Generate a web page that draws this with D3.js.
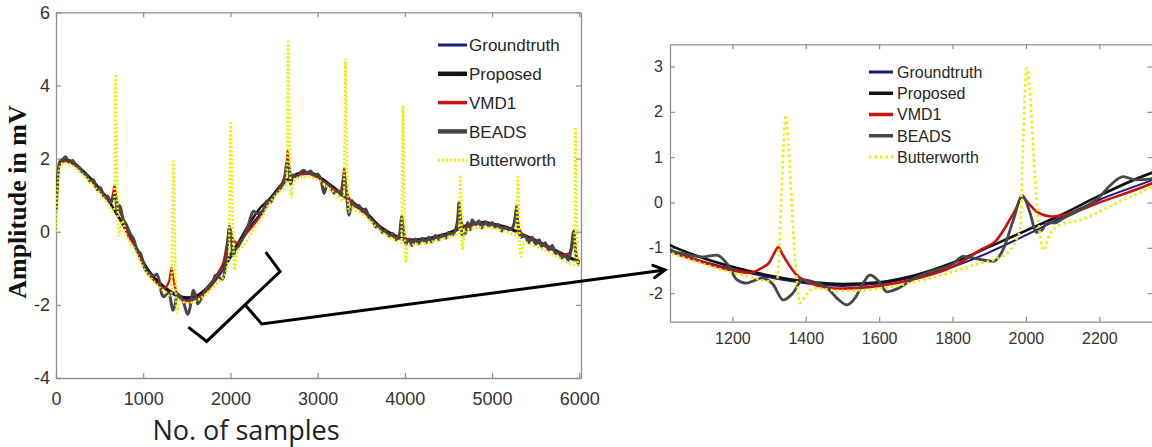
<!DOCTYPE html>
<html>
<head>
<meta charset="utf-8">
<script src="https://cdn.jsdelivr.net/npm/d3@7"></script>
<style>
  html, body { margin: 0; padding: 0; background: #fff; }
  svg { display: block; }
</style>
</head>
<body>
<svg id="chart" width="1152" height="447"></svg>
<script>
// ---- data: [sample index, amplitude in mV] ----
const seriesNames = ["Groundtruth", "Proposed", "VMD1", "BEADS", "Butterworth"];

const groundtruth = [
  [0,0.62],[15,1.3],[40,1.85],[100,1.95],[200,1.86],[300,1.66],[400,1.42],[500,1.15],[600,0.84],
  [700,0.45],[800,0.04],[900,-0.38],[960,-0.68],[1030,-1.04],[1100,-1.25],[1200,-1.47],[1300,-1.65],
  [1400,-1.78],[1500,-1.84],[1600,-1.79],[1700,-1.64],[1800,-1.42],[1900,-1.1],[2000,-0.72],
  [2100,-0.32],[2200,0.06],[2345,0.5],[2450,0.86],[2560,1.2],[2680,1.45],[2800,1.58],[2900,1.6],
  [3000,1.5],[3100,1.34],[3200,1.16],[3300,0.96],[3400,0.78],[3500,0.62],[3600,0.4],[3700,0.15],
  [3800,-0.02],[3900,-0.14],[4000,-0.23],[4100,-0.25],[4200,-0.23],[4300,-0.19],[4400,-0.13],
  [4500,-0.06],[4600,0.04],[4700,0.14],[4800,0.21],[4900,0.23],[5000,0.2],[5100,0.14],[5200,0.07],
  [5300,-0.04],[5400,-0.15],[5500,-0.26],[5600,-0.38],[5700,-0.5],[5800,-0.62],[5900,-0.74],[6000,-0.84]
];

const proposed = [
  [0,0.65],[15,1.33],[40,1.88],[100,1.98],[200,1.89],[300,1.69],[400,1.45],[500,1.18],[600,0.87],
  [700,0.48],[800,0.07],[900,-0.33],[960,-0.62],[1030,-0.94],[1100,-1.17],[1200,-1.42],[1300,-1.61],
  [1400,-1.74],[1500,-1.8],[1600,-1.76],[1700,-1.6],[1800,-1.33],[1900,-0.98],[2000,-0.62],
  [2100,-0.26],[2200,0.15],[2345,0.66],[2450,0.9],[2560,1.23],[2680,1.48],[2800,1.61],[2900,1.63],
  [3000,1.53],[3100,1.37],[3200,1.19],[3300,0.99],[3400,0.81],[3500,0.65],[3600,0.43],[3700,0.18],
  [3800,0.01],[3900,-0.11],[4000,-0.2],[4100,-0.22],[4200,-0.2],[4300,-0.16],[4400,-0.1],
  [4500,-0.03],[4600,0.07],[4700,0.17],[4800,0.24],[4900,0.26],[5000,0.23],[5100,0.17],[5200,0.1],
  [5300,-0.01],[5400,-0.12],[5500,-0.23],[5600,-0.35],[5700,-0.47],[5800,-0.59],[5900,-0.71],[6000,-0.81]
];

const vmd1 = [
  [0,0.6],[15,1.28],[40,1.82],[100,1.93],[200,1.84],[300,1.64],[400,1.4],[500,1.12],[580,0.9],
  [620,0.85],[645,0.95],[660,1.12],[670,1.28],[680,1.1],[695,0.88],[720,0.62],[760,0.4],[800,0.05],
  [900,-0.38],[960,-0.7],[1030,-1.07],[1100,-1.27],[1200,-1.5],[1248,-1.55],[1285,-1.42],[1300,-1.33],
  [1312,-1.15],[1325,-0.99],[1337,-1.15],[1348,-1.3],[1375,-1.6],[1412,-1.78],[1457,-1.88],[1500,-1.9],
  [1600,-1.84],[1700,-1.68],[1800,-1.42],[1875,-1.05],[1920,-0.83],[1956,-0.38],[1975,-0.1],[1988,0.13],
  [2007,-0.02],[2029,-0.2],[2074,-0.31],[2111,-0.26],[2200,0.0],[2345,0.43],[2450,0.84],[2560,1.2],
  [2600,1.38],[2630,1.6],[2645,1.85],[2655,2.22],[2668,1.9],[2685,1.62],[2720,1.5],[2800,1.56],
  [2900,1.58],[3000,1.48],[3100,1.32],[3200,1.14],[3250,1.08],[3280,1.25],[3295,1.5],[3305,1.75],
  [3318,1.45],[3335,1.1],[3370,0.88],[3400,0.76],[3500,0.6],[3600,0.38],[3700,0.13],[3800,-0.04],
  [3900,-0.15],[3930,-0.1],[3950,0.1],[3965,0.46],[3978,0.15],[3995,-0.1],[4030,-0.22],[4100,-0.26],
  [4200,-0.24],[4300,-0.2],[4400,-0.14],[4500,-0.07],[4570,0.0],[4595,0.2],[4610,0.45],[4622,0.83],
  [4635,0.5],[4652,0.25],[4690,0.13],[4800,0.2],[4900,0.22],[5000,0.19],[5100,0.13],[5200,0.08],
  [5240,0.12],[5262,0.35],[5280,0.73],[5293,0.4],[5310,0.1],[5350,-0.08],[5400,-0.16],[5500,-0.27],
  [5600,-0.39],[5700,-0.51],[5800,-0.63],[5880,-0.6],[5910,-0.4],[5940,0.05],[5955,-0.35],[5975,-0.7],
  [6000,-0.85]
];

const beads = [
  [0,0.55],[15,1.25],[40,1.9],[80,1.98],[110,2.05],[150,1.9],[190,1.95],[230,1.8],[270,1.75],[310,1.6],
  [350,1.55],[390,1.38],[430,1.42],[470,1.15],[510,1.2],[550,0.95],[590,0.98],[630,0.8],[660,0.95],
  [680,1.05],[700,0.6],[730,0.72],[770,0.35],[810,0.18],[850,-0.05],[890,-0.2],[930,-0.5],[970,-0.6],
  [1000,-0.84],[1030,-1.05],[1080,-1.15],[1120,-1.2],[1157,-1.16],[1190,-1.4],[1212,-1.7],[1240,-1.78],
  [1260,-1.72],[1280,-1.67],[1310,-1.8],[1339,-2.15],[1365,-2.0],[1392,-1.7],[1420,-1.75],[1460,-1.9],
  [1490,-2.15],[1512,-2.26],[1535,-2.1],[1555,-1.8],[1575,-1.6],[1600,-1.75],[1621,-1.97],[1650,-1.9],
  [1700,-1.65],[1750,-1.5],[1800,-1.36],[1829,-1.19],[1870,-1.25],[1911,-1.3],[1940,-1.0],[1965,-0.4],
  [1991,0.15],[2010,-0.2],[2029,-0.66],[2045,-0.6],[2057,-0.45],[2080,-0.45],[2100,-0.36],[2150,-0.15],
  [2200,0.12],[2230,0.38],[2265,0.57],[2300,0.5],[2345,0.53],[2380,0.6],[2420,0.85],[2460,0.8],
  [2500,1.0],[2540,1.1],[2580,1.2],[2620,1.45],[2650,1.9],[2668,1.75],[2690,1.3],[2720,1.55],
  [2760,1.5],[2800,1.62],[2840,1.68],[2880,1.6],[2920,1.66],[2960,1.52],[3000,1.58],[3040,1.4],
  [3074,1.05],[3110,1.3],[3150,1.22],[3190,1.05],[3230,1.12],[3270,1.0],[3305,1.55],[3325,1.2],
  [3360,0.45],[3395,0.85],[3430,0.7],[3474,0.72],[3510,0.55],[3550,0.62],[3589,0.38],[3630,0.3],
  [3670,0.12],[3703,0.18],[3740,-0.02],[3780,0.05],[3817,-0.12],[3860,-0.05],[3900,-0.22],[3935,-0.15],
  [3965,0.4],[3985,0.0],[4010,-0.35],[4050,-0.2],[4084,-0.38],[4120,-0.2],[4160,-0.32],[4200,-0.18],
  [4240,-0.3],[4274,-0.15],[4310,-0.28],[4350,-0.1],[4390,-0.22],[4430,-0.08],[4465,-0.18],[4500,-0.02],
  [4540,-0.1],[4579,0.05],[4605,0.3],[4622,0.8],[4640,0.3],[4660,-0.1],[4693,-0.05],[4720,0.25],
  [4750,0.05],[4770,0.33],[4810,0.2],[4850,0.3],[4880,0.1],[4922,0.28],[4960,0.15],[5000,0.25],
  [5036,0.12],[5070,0.2],[5110,0.02],[5150,0.12],[5189,0.05],[5230,0.1],[5260,0.3],[5280,0.6],
  [5300,0.1],[5330,-0.15],[5379,-0.1],[5420,-0.3],[5460,-0.15],[5500,-0.35],[5540,-0.22],[5570,-0.4],
  [5610,-0.3],[5650,-0.5],[5690,-0.38],[5730,-0.6],[5760,-0.55],[5800,-0.72],[5840,-0.65],[5874,-0.78],
  [5910,-0.45],[5935,0.0],[5955,-0.5],[5975,-0.8],[6000,-0.88]
];

const butterworth = [
  [0,0.0],[10,0.7],[30,1.6],[60,1.85],[100,1.88],[200,1.78],[300,1.58],[400,1.33],[500,1.06],[600,0.75],
  [660,0.55],[672,1.2],[684,4.3],[692,3.0],[705,0.8],[718,-0.1],[735,0.05],[760,0.3],[800,-0.05],
  [900,-0.48],[960,-0.78],[1030,-1.1],[1100,-1.3],[1200,-1.55],[1250,-1.65],[1300,-1.74],[1322,-1.68],
  [1334,0.2],[1345,1.93],[1352,1.4],[1365,-0.5],[1378,-1.9],[1384,-2.22],[1400,-2.05],[1421,-1.89],
  [1500,-1.95],[1600,-1.9],[1700,-1.75],[1784,-1.57],[1850,-1.4],[1948,-1.12],[1975,-0.8],[1984,-0.6],
  [1993,1.5],[2002,2.96],[2010,2.5],[2025,0.5],[2040,-0.8],[2048,-1.05],[2065,-0.7],[2084,-0.53],
  [2150,-0.38],[2250,0.0],[2345,0.35],[2450,0.78],[2560,1.1],[2640,1.3],[2652,2.5],[2662,5.2],
  [2670,4.0],[2685,1.5],[2700,0.95],[2720,1.3],[2760,1.45],[2800,1.5],[2900,1.5],[3000,1.42],
  [3100,1.25],[3200,1.05],[3300,0.85],[3310,2.5],[3320,4.7],[3328,3.5],[3345,1.2],[3358,0.55],
  [3380,0.7],[3400,0.65],[3500,0.5],[3600,0.3],[3700,0.05],[3800,-0.12],[3900,-0.24],[3960,-0.3],
  [3970,1.5],[3978,3.45],[3986,2.5],[4000,0.2],[4010,-0.85],[4030,-0.45],[4100,-0.35],[4200,-0.33],
  [4300,-0.28],[4400,-0.22],[4500,-0.15],[4600,-0.07],[4625,-0.05],[4636,1.55],[4645,1.0],[4660,-0.5],
  [4675,-0.2],[4700,0.03],[4800,0.1],[4900,0.12],[5000,0.1],[5100,0.04],[5200,-0.03],[5280,-0.1],
  [5295,1.5],[5303,1.0],[5318,-0.4],[5330,-0.68],[5350,-0.4],[5400,-0.3],[5500,-0.4],[5600,-0.5],
  [5700,-0.62],[5800,-0.75],[5900,-0.88],[5945,-0.9],[5956,2.85],[5965,1.5],[5980,-0.8],[6000,-1.0]
];

// axis ticks and limits
const overviewXDomain = [0, 6020];
const overviewYDomain = [-4, 6];
const overviewXTicks = [0, 1000, 2000, 3000, 4000, 5000, 6000];
const overviewYTicks = [-4, -2, 0, 2, 4, 6];
const detailXDomain = [1030, 2345];
const detailYDomain = [-2.63, 3.49];
const detailXTicks = [1200, 1400, 1600, 1800, 2000, 2200];
const detailYTicks = [-2, -1, 0, 1, 2, 3];

// ---- drawing ----
const seriesData = {
  Groundtruth: groundtruth, Proposed: proposed, VMD1: vmd1, BEADS: beads, Butterworth: butterworth
};
const palette = {
  Groundtruth: "#1b1b7a", Proposed: "#111111", VMD1: "#cc1010", BEADS: "#474747", Butterworth: "#eeee00"
};

const svg = d3.select("#chart");
const AXIS_GREY = "#8f8f8f";
const plainNumber = d => String(d);

function drawPanel(cfg) {
  const x = d3.scaleLinear().domain(cfg.xDomain).range([cfg.left, cfg.right]);
  const y = d3.scaleLinear().domain(cfg.yDomain).range([cfg.bottom, cfg.top]);
  const g = svg.append("g");

  const clipId = "clip-" + cfg.id;
  svg.append("clipPath").attr("id", clipId).append("rect")
    .attr("x", cfg.left).attr("y", cfg.top)
    .attr("width", cfg.right - cfg.left).attr("height", cfg.bottom - cfg.top);

  // axes with inward ticks on all four sides
  const styleAxis = sel => {
    sel.selectAll("path.domain").attr("stroke", AXIS_GREY).attr("stroke-width", 1.3);
    sel.selectAll(".tick line").attr("stroke", AXIS_GREY).attr("stroke-width", 1.2);
    sel.selectAll(".tick text").attr("fill", "#333")
      .style("font-family", "'Liberation Sans', Arial, sans-serif")
      .style("font-size", cfg.tickFont + "px");
  };
  g.append("g").attr("transform", `translate(0,${cfg.bottom})`)
    .call(d3.axisBottom(x).tickValues(cfg.xTicks).tickFormat(plainNumber)
      .tickSize(-5).tickSizeOuter(0).tickPadding(cfg.xPad))
    .call(styleAxis);
  g.append("g").attr("transform", `translate(0,${cfg.top})`)
    .call(d3.axisTop(x).tickValues(cfg.xTicks).tickSize(-5).tickSizeOuter(0).tickFormat(""))
    .call(styleAxis);
  g.append("g").attr("transform", `translate(${cfg.left},0)`)
    .call(d3.axisLeft(y).tickValues(cfg.yTicks).tickFormat(plainNumber)
      .tickSize(-5).tickSizeOuter(0).tickPadding(cfg.yPad))
    .call(styleAxis);
  g.append("g").attr("transform", `translate(${cfg.right},0)`)
    .call(d3.axisRight(y).tickValues(cfg.yTicks).tickSize(-5).tickSizeOuter(0).tickFormat(""))
    .call(styleAxis);

  const line = d3.line().x(d => x(d[0])).y(d => y(d[1])).curve(d3.curveMonotoneX);
  const plot = g.append("g").attr("clip-path", `url(#${clipId})`);
  seriesNames.forEach(name => {
    plot.append("path").datum(seriesData[name])
      .attr("d", line).attr("fill", "none")
      .attr("stroke", palette[name]).attr("stroke-width", cfg.widths[name])
      .attr("stroke-linejoin", "round")
      .attr("stroke-dasharray", name === "Butterworth" ? cfg.dotted : null);
  });

  // legend
  const lg = g.append("g");
  seriesNames.forEach((name, i) => {
    const yy = cfg.legend.y + i * cfg.legend.step;
    lg.append("line")
      .attr("x1", cfg.legend.x1).attr("x2", cfg.legend.x2).attr("y1", yy).attr("y2", yy)
      .attr("stroke", palette[name]).attr("stroke-width", cfg.legend.widths[name])
      .attr("stroke-dasharray", name === "Butterworth" ? cfg.dotted : null);
    lg.append("text").attr("x", cfg.legend.tx).attr("y", yy).attr("dy", "0.36em")
      .attr("fill", "#262626")
      .style("font-family", "'Liberation Sans', Arial, sans-serif")
      .style("font-size", cfg.legend.font + "px")
      .text(name);
  });
  return { x, y };
}

const overview = drawPanel({
  id: "overview", left: 56, right: 581, top: 12.3, bottom: 378,
  xDomain: overviewXDomain, yDomain: overviewYDomain,
  xTicks: overviewXTicks, yTicks: overviewYTicks,
  tickFont: 18, xPad: 14, yPad: 6, dotted: "2,2",
  widths: { Groundtruth: 2, Proposed: 2.4, VMD1: 2.2, BEADS: 3, Butterworth: 2.6 },
  legend: { x1: 438, x2: 467, tx: 469, y: 45, step: 28.8, font: 17,
            widths: { Groundtruth: 3, Proposed: 4.5, VMD1: 3.5, BEADS: 4.5, Butterworth: 3 } }
});

const detail = drawPanel({
  id: "detail", left: 670, right: 1152.5, top: 44.3, bottom: 321.7,
  xDomain: detailXDomain, yDomain: detailYDomain,
  xTicks: detailXTicks, yTicks: detailYTicks,
  tickFont: 16, xPad: 11, yPad: 7, dotted: "2.5,3",
  widths: { Groundtruth: 2, Proposed: 2.6, VMD1: 2.6, BEADS: 2.8, Butterworth: 2.6 },
  legend: { x1: 869, x2: 893, tx: 897, y: 72, step: 21.25, font: 16,
            widths: { Groundtruth: 3, Proposed: 3.5, VMD1: 3.5, BEADS: 3.5, Butterworth: 3 } }
});

// axis titles
svg.append("text")
  .attr("transform", "translate(26,202) rotate(-90)")
  .attr("text-anchor", "middle")
  .attr("fill", "#111")
  .style("font-family", "'Liberation Serif', 'Times New Roman', serif")
  .style("font-weight", "bold").style("font-size", "26px")
  .text("Amplitude in mV");
svg.append("text")
  .attr("x", 246).attr("y", 440).attr("text-anchor", "middle")
  .attr("fill", "#222")
  .style("font-family", "'Open Sans', sans-serif").style("font-size", "27px")
  .text("No. of samples");

// brace marking the zoomed span, and the arrow leading to the detail panel
const braceSamples = [[1517,-2.61],[1728,-3.0],[2167,-2.0],[2569,-1.087],[2405,-0.557]];
const braceStem = [[2167,-2.0],[2359,-2.52]];
const arrowTarget = [detailXDomain[0], -1.49];

const bx = overview.x, by = overview.y;
const braceLine = d3.line().x(d => bx(d[0])).y(d => by(d[1]));
svg.append("path").datum(braceSamples).attr("d", braceLine)
  .attr("fill", "none").attr("stroke", "#000").attr("stroke-width", 3).attr("stroke-linejoin", "miter");

const tip = [detail.x(arrowTarget[0]) - 5, detail.y(arrowTarget[1])];
const stemEnd = [bx(braceStem[1][0]), by(braceStem[1][1])];
svg.append("path")
  .attr("d", d3.line()([[bx(braceStem[0][0]), by(braceStem[0][1])], stemEnd, tip]))
  .attr("fill", "none").attr("stroke", "#000").attr("stroke-width", 3).attr("stroke-linejoin", "miter");

const ang = Math.atan2(tip[1] - stemEnd[1], tip[0] - stemEnd[0]);
const head = 13, spread = 0.5;
svg.append("path")
  .attr("d", d3.line()([
    [tip[0] - head * Math.cos(ang - spread), tip[1] - head * Math.sin(ang - spread)],
    tip,
    [tip[0] - head * Math.cos(ang + spread), tip[1] - head * Math.sin(ang + spread)]
  ]))
  .attr("fill", "none").attr("stroke", "#000").attr("stroke-width", 3)
  .attr("stroke-linecap", "round").attr("stroke-linejoin", "miter");
</script>
</body>
</html>
